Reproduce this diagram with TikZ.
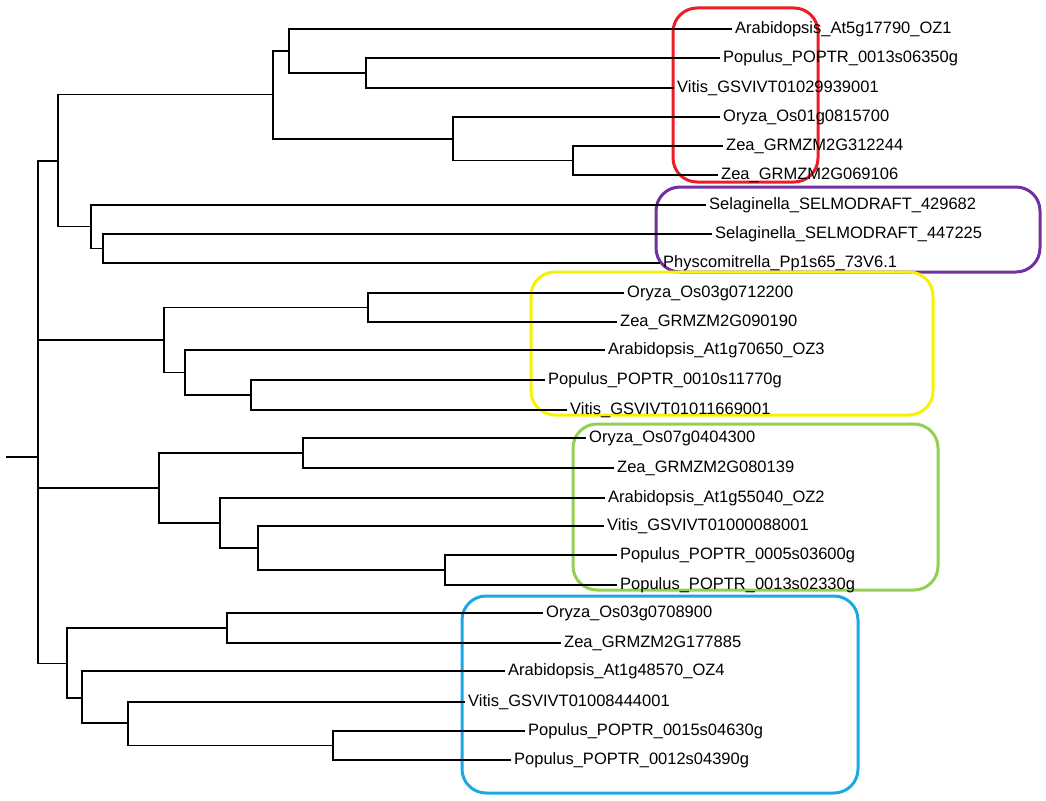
\documentclass[tikz,border=0pt]{standalone}
\usepackage{fontspec}
\setmainfont{Liberation Sans}
\begin{document}
\begin{tikzpicture}[x=1pt,y=-1pt,
  br/.style={line width=1.8pt,black},
  lab/.style={anchor=west,inner sep=0pt,font=\fontsize{16.5}{18}\selectfont},
  box/.style={line width=3pt,rounded corners=24pt}]
\useasboundingbox (0,0) rectangle (1046,800);
\definecolor{cred}{HTML}{EE1C25}
\definecolor{cpur}{HTML}{7030A0}
\definecolor{cyel}{HTML}{F7F200}
\definecolor{cgrn}{HTML}{92D050}
\definecolor{cblu}{HTML}{1CA8E0}
% boxes
\draw[box,cred] (673,8) rectangle (818,182);
\draw[box,cpur] (656,187) rectangle (1040,272);
\draw[box,cyel] (531,272) rectangle (933,415);
\draw[box,cgrn] (573,424) rectangle (938,590);
\draw[box,cblu] (462,596) rectangle (858,793);
% leaves
\foreach \n/\x/\y/\t in {
 l1/732/29/Arabidopsis\_At5g17790\_OZ1,
 l2/720/58/Populus\_POPTR\_0013s06350g,
 l3/674/88/Vitis\_GSVIVT01029939001,
 l4/720/117/Oryza\_Os01g0815700,
 l5/723/146/Zea\_GRMZM2G312244,
 l6/718/175/Zea\_GRMZM2G069106,
 l7/706/205/Selaginella\_SELMODRAFT\_429682,
 l8/712/234/Selaginella\_SELMODRAFT\_447225,
 l9/660/263/Physcomitrella\_Pp1s65\_73V6.1,
 l10/624/293/Oryza\_Os03g0712200,
 l11/617/322/Zea\_GRMZM2G090190,
 l12/605/350/Arabidopsis\_At1g70650\_OZ3,
 l13/545/380/Populus\_POPTR\_0010s11770g,
 l14/567/410/Vitis\_GSVIVT01011669001,
 l15/586/438/Oryza\_Os07g0404300,
 l16/614/468/Zea\_GRMZM2G080139,
 l17/605/498/Arabidopsis\_At1g55040\_OZ2,
 l18/604/526/Vitis\_GSVIVT01000088001,
 l19/617/555/Populus\_POPTR\_0005s03600g,
 l20/617/585/Populus\_POPTR\_0013s02330g,
 l21/543/613/Oryza\_Os03g0708900,
 l22/561/643/Zea\_GRMZM2G177885,
 l23/505/671/Arabidopsis\_At1g48570\_OZ4,
 l24/465/702/Vitis\_GSVIVT01008444001,
 l25/525/731/Populus\_POPTR\_0015s04630g,
 l26/511/760/Populus\_POPTR\_0012s04390g}
 {\coordinate (\n) at (\x,\y); \node[lab] (t\n) at (\x+3,\y) {\t};}
% internal nodes
\coordinate (s) at (6,457);
\coordinate (r) at (38,457);
\coordinate (rp) at (58,161);
\coordinate (red) at (273,94.5);
\coordinate (a1) at (289,51);
\coordinate (pv) at (366,73);
\coordinate (m) at (453,139);
\coordinate (z) at (573,160.5);
\coordinate (p) at (91,226.5);
\coordinate (p2) at (103,248.5);
\coordinate (y) at (164,340);
\coordinate (ozy) at (368,307.5);
\coordinate (y2) at (185,372.5);
\coordinate (pvy) at (251,395);
\coordinate (g) at (159,488);
\coordinate (ozg) at (303,453);
\coordinate (g2) at (220,523);
\coordinate (g3) at (258,548);
\coordinate (pg) at (445,570);
\coordinate (b) at (67,663.5);
\coordinate (ozb) at (227,628);
\coordinate (b2) at (82,698);
\coordinate (b3) at (128,723);
\coordinate (pb) at (333,745.5);
% branches
\foreach \a/\b in {s/r, r/rp, r/y, r/g, r/b,
 rp/red, rp/p, red/a1, red/m, a1/l1, a1/pv, pv/l2, pv/l3, m/l4, m/z, z/l5, z/l6,
 p/l7, p/p2, p2/l8, p2/l9,
 y/ozy, y/y2, ozy/l10, ozy/l11, y2/l12, y2/pvy, pvy/l13, pvy/l14,
 g/ozg, g/g2, ozg/l15, ozg/l16, g2/l17, g2/g3, g3/l18, g3/pg, pg/l19, pg/l20,
 b/ozb, b/b2, ozb/l21, ozb/l22, b2/l23, b2/b3, b3/l24, b3/pb, pb/l25, pb/l26}
 {\draw[br] (\a) |- (\b);}
\end{tikzpicture}
\end{document}
